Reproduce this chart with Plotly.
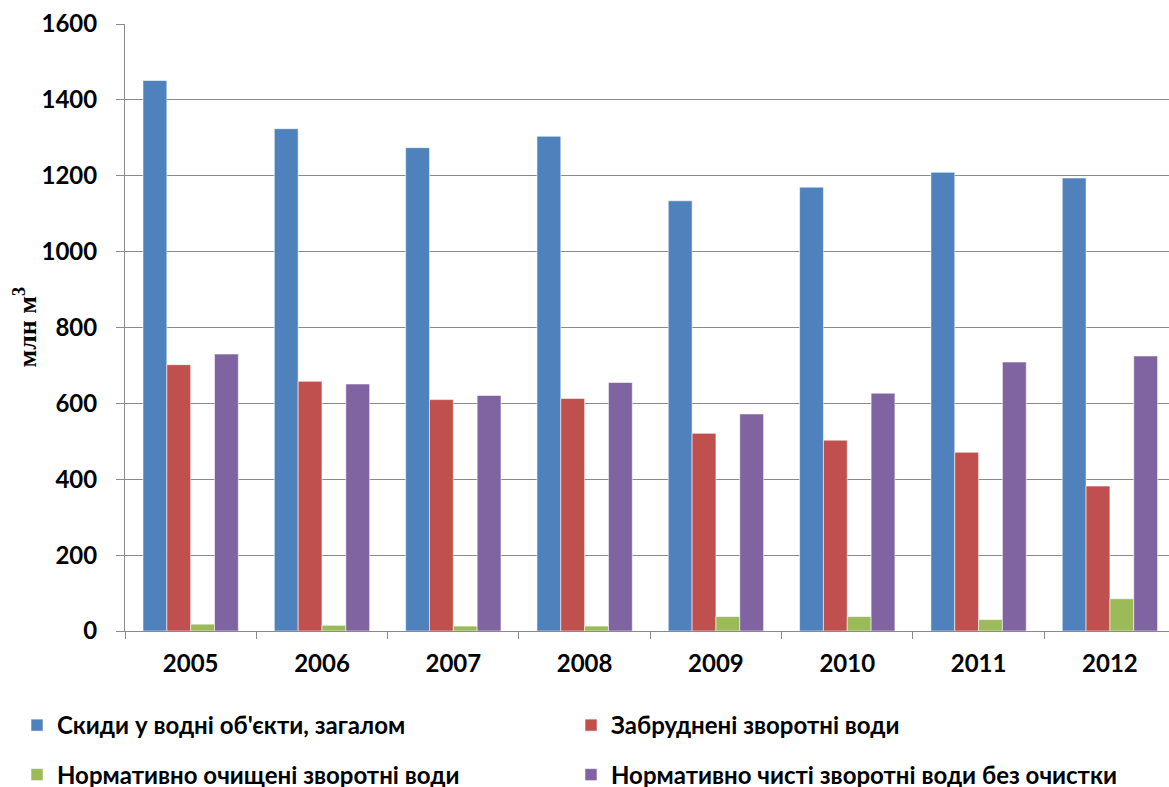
import plotly.graph_objects as go

# Water discharge by category, million m³
years = ["2005", "2006", "2007", "2008", "2009", "2010", "2011", "2012"]
total_discharge = [1451, 1324, 1274, 1304, 1134, 1170, 1209, 1194]
polluted = [702, 658, 610, 613, 521, 503, 471, 382]
treated_to_standard = [18, 15, 13, 13, 38, 38, 30, 85]
clean_without_treatment = [730, 651, 621, 655, 572, 627, 709, 725]

series_names = [
    "Скиди у водні об'єкти, загалом",
    "Забруднені зворотні води",
    "Нормативно очищені зворотні води",
    "Нормативно чисті зворотні води без очистки",
]
colors = ["#4F81BD", "#C0504D", "#9BBB59", "#8064A2"]

# one legend box per series, laid out as a 2x2 grid (left px, centre-y px)
legend_ids = ["legend", "legend2", "legend3", "legend4"]
legend_spots = [(17, 725.5), (571, 725.5), (17, 775), (571, 775)]

FONT = "Lato"
GRID = "#8a8a8a"
W, H = 1169, 787

fig = go.Figure()
for name, vals, col, lg in zip(
    series_names,
    [total_discharge, polluted, treated_to_standard, clean_without_treatment],
    colors,
    legend_ids,
):
    fig.add_trace(
        go.Bar(
            x=years,
            y=vals,
            name=name,
            marker=dict(color=col, line=dict(color="rgba(255,255,255,0.55)", width=1)),
            legend=lg,
        )
    )

legend_layout = {}
for lg, (lx, ly) in zip(legend_ids, legend_spots):
    legend_layout[lg] = dict(
        orientation="h",
        xref="container",
        yref="container",
        x=lx / W,
        y=1 - ly / H,
        xanchor="left",
        yanchor="middle",
        font=dict(family=FONT, size=24, color="#000000", weight="bold"),
        bgcolor="rgba(0,0,0,0)",
        itemclick=False,
    )

fig.update_layout(
    width=W,
    height=H,
    margin=dict(l=125, r=0, t=24, b=156),
    paper_bgcolor="white",
    plot_bgcolor="white",
    barmode="group",
    bargap=0.274,
    bargroupgap=0,
    showlegend=True,
    **legend_layout,
    xaxis=dict(
        type="category",
        range=[-0.5, 7.45],
        showline=True,
        linecolor=GRID,
        linewidth=1,
        ticks="outside",
        tickson="boundaries",
        ticklen=7,
        tickcolor=GRID,
        showgrid=False,
        ticklabelstandoff=11,
        tickfont=dict(family=FONT, size=24, color="#000000", weight="bold"),
    ),
    yaxis=dict(
        range=[0, 1600],
        tickmode="array",
        tickvals=[0, 200, 400, 600, 800, 1000, 1200, 1400, 1600],
        showline=True,
        linecolor=GRID,
        linewidth=1,
        ticks="outside",
        ticklen=8,
        tickcolor=GRID,
        showgrid=True,
        gridcolor=GRID,
        gridwidth=1,
        zeroline=False,
        ticklabelstandoff=14,
        tickfont=dict(family=FONT, size=24, color="#000000", weight="bold"),
    ),
    annotations=[
        dict(
            text="млн м<sup>3</sup>",
            xref="paper",
            yref="paper",
            x=(26 - 125) / 1044,
            y=0.5,
            xanchor="center",
            yanchor="middle",
            textangle=-90,
            showarrow=False,
            font=dict(family="Liberation Serif", size=26, color="#000000", weight="bold"),
        )
    ],
)

fig.write_html("out.html")
